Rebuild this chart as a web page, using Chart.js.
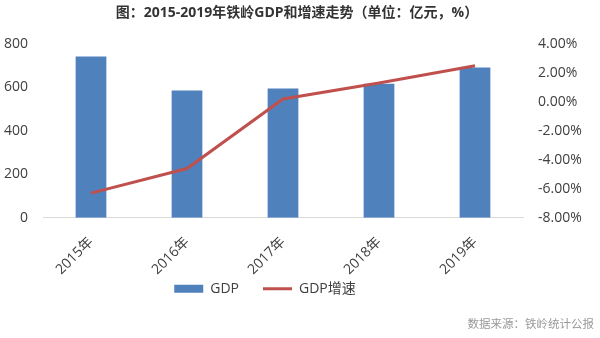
<!DOCTYPE html>
<html>
<head>
<meta charset="utf-8">
<script src="https://cdn.jsdelivr.net/npm/chart.js@4"></script>
<style>
  html, body { margin: 0; padding: 0; background: #fff; }
  #wrap { width: 600px; height: 338px; position: relative; }
</style>
</head>
<body>
<div id="wrap"><canvas id="c" width="600" height="338"></canvas></div>
<script>
const categories = ['2015年', '2016年', '2017年', '2018年', '2019年'];
const gdpValues = [743, 586, 595, 617, 692];
const growthValues = [-6.3, -4.6, 0.2, 1.3, 2.5];
const leftTicks = { min: 0, max: 800, step: 200 };
const rightTicks = { min: -8, max: 4, step: 2 };
const seriesNames = ['GDP', 'GDP增速'];
const titleText = '图：2015-2019年铁岭GDP和增速走势（单位：亿元，%）';
const sourceText = '数据来源：铁岭统计公报';

const FONT = '"Open Sans", "Noto Sans CJK SC", sans-serif';
const TEXT = '#404040';

// place the legend row just below the rotated category labels, a bit left of centre
const legendShift = {
  id: 'legendShift',
  afterLayout(chart) {
    const l = chart.legend;
    if (l) {
      l.left -= 18; l.right -= 18;
      l.top = chart.chartArea.bottom + 40;
    }
  }
};

new Chart(document.getElementById('c'), {
  type: 'bar',
  data: {
    labels: categories,
    datasets: [
      {
        type: 'bar',
        label: seriesNames[0],
        data: gdpValues,
        backgroundColor: '#4F81BD',
        borderWidth: 0,
        yAxisID: 'y',
        order: 1,
        categoryPercentage: 1,
        barPercentage: 0.32
      },
      {
        type: 'line',
        label: seriesNames[1],
        data: growthValues,
        borderColor: '#C0504D',
        backgroundColor: '#C0504D',
        borderWidth: 3,
        pointRadius: 0,
        tension: 0,
        yAxisID: 'y1',
        order: 0
      }
    ]
  },
  options: {
    responsive: false,
    animation: false,
    layout: { padding: { left: 0, right: 6, top: 0, bottom: 0 } },
    plugins: {
      tooltip: { enabled: false },
      title: {
        display: true,
        text: titleText,
        color: '#333',
        font: { family: FONT, size: 14, weight: 'bold' },
        padding: { top: 4.6, bottom: 22.6 }
      },
      subtitle: {
        display: true,
        text: sourceText,
        position: 'bottom',
        align: 'end',
        color: '#999',
        font: { family: FONT, size: 11.5 },
        padding: { top: 0, bottom: 6 }
      },
      legend: {
        position: 'bottom',
        fullSize: false,
        maxHeight: 24,
        labels: {
          color: TEXT,
          font: { family: FONT, size: 14 },
          usePointStyle: true,
          pointStyleWidth: 29,
          boxHeight: 8,
          padding: 24,
          generateLabels(chart) {
            const items = Chart.defaults.plugins.legend.labels.generateLabels(chart);
            items.sort((a, b) => a.datasetIndex - b.datasetIndex);
            items.forEach(it => {
              if (it.datasetIndex === 0) { it.pointStyle = 'rect'; it.lineWidth = 0; }
              else { it.pointStyle = 'line'; it.lineWidth = 3; }
            });
            return items;
          }
        }
      }
    },
    scales: {
      x: {
        grid: { display: false, drawTicks: false },
        border: { display: true, color: '#d9d9d9', width: 1 },
        ticks: {
          color: TEXT,
          font: { family: FONT, size: 14 },
          minRotation: 45,
          maxRotation: 45,
          padding: 16
        }
      },
      y: {
        position: 'left',
        min: leftTicks.min,
        max: leftTicks.max,
        grid: { display: false, drawTicks: false },
        border: { display: false },
        ticks: {
          stepSize: leftTicks.step,
          color: TEXT,
          font: { family: FONT, size: 14 },
          padding: 15
        },
        afterFit(scale) { scale.width = 43; }
      },
      y1: {
        position: 'right',
        min: rightTicks.min,
        max: rightTicks.max,
        grid: { display: false, drawTicks: false },
        border: { display: false },
        ticks: {
          stepSize: rightTicks.step,
          color: TEXT,
          font: { family: FONT, size: 14 },
          padding: 15,
          callback: v => v.toFixed(2) + '%'
        },
        afterFit(scale) { scale.width = 71; }
      }
    }
  },
  plugins: [legendShift]
});
</script>
</body>
</html>
